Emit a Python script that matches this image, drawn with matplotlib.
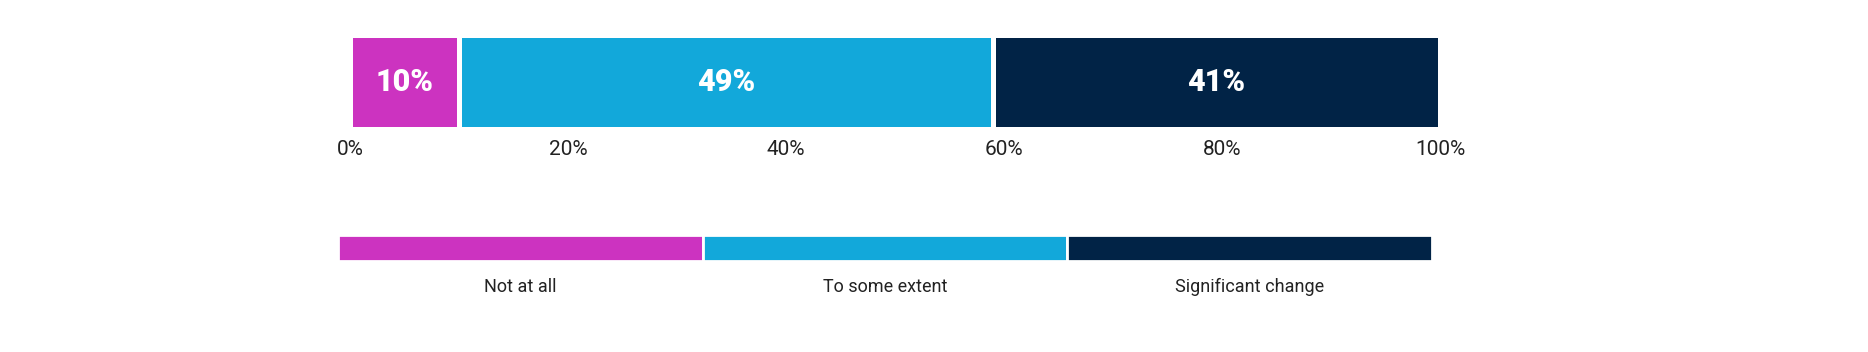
import matplotlib
matplotlib.use("Agg")
import matplotlib.pyplot as plt

plt.rcParams['font.family'] = ['Roboto', 'DejaVu Sans']

# data
categories = ["Not at all", "To some extent", "Significant change"]
shares = [10, 49, 41]
colors = ["#CC33C0", "#12A8DA", "#012346"]
ticks = [0, 20, 40, 60, 80, 100]

fig = plt.figure(figsize=(18.68, 3.52), dpi=100)

# main stacked bar
ax = fig.add_axes([350 / 1868, 1 - 129 / 352, 1090 / 1868, 94 / 352])
left = 0
for cat, val, col in zip(categories, shares, colors):
    ax.barh(0, val, left=left, height=1, color=col, edgecolor="white", linewidth=3.6)
    ax.text(left + val / 2, 0, f"{val}%", ha="center", va="center",
            color="white", fontsize=22, fontweight="heavy")
    left += val
ax.set_xlim(0, 100)
ax.set_ylim(-0.5, 0.5)
ax.set_xticks(ticks)
ax.set_xticklabels([f"{t}%" for t in ticks], fontsize=15, color="#222222")
ax.tick_params(axis="x", length=0, pad=8)
ax.set_yticks([])
for s in ax.spines.values():
    s.set_visible(False)

# legend strip
lg = fig.add_axes([338 / 1868, 1 - 261 / 352, 1094 / 1868, 26 / 352])
for i, (cat, col) in enumerate(zip(categories, colors)):
    lg.barh(0, 1, left=i, height=1, color=col, edgecolor="white", linewidth=2)
    lg.text(i + 0.5, -1.5, cat, ha="center", va="center", fontsize=13, color="#222222")
lg.set_xlim(0, 3)
lg.set_ylim(-0.5, 0.5)
lg.axis("off")

fig.savefig("out.png", dpi=100)
